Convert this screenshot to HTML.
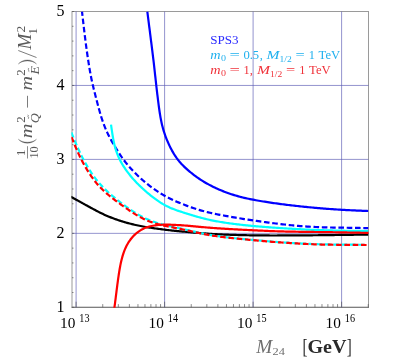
<!DOCTYPE html>
<html><head><meta charset="utf-8"><title>plot</title>
<style>
html,body{margin:0;padding:0;background:#fff;}
body{width:399px;height:362px;overflow:hidden;position:relative;font-family:"Liberation Serif",serif;}
</style></head><body>
<svg width="399" height="362" viewBox="0 0 399 362" style="position:absolute;left:0;top:0;will-change:transform;opacity:0.999">
<rect x="0" y="0" width="399" height="362" fill="#fff"/>
<defs><clipPath id="c"><rect x="71.4" y="11.5" width="297.1" height="296.2"/></clipPath></defs>
<rect x="72.0" y="11.5" width="296.5" height="295.8" fill="none" stroke="#9a9a9a" stroke-width="1"/>
<line x1="71.5" y1="307.3" x2="369.0" y2="307.3" stroke="#666" stroke-width="0.8"/>
<g stroke="#5a5ab4" stroke-width="0.65" fill="none"><line x1="76.10" y1="11.5" x2="76.10" y2="307.3"/><line x1="164.60" y1="11.5" x2="164.60" y2="307.3"/><line x1="253.10" y1="11.5" x2="253.10" y2="307.3"/><line x1="341.60" y1="11.5" x2="341.60" y2="307.3"/><line x1="72.0" y1="233.35" x2="368.5" y2="233.35"/><line x1="72.0" y1="159.40" x2="368.5" y2="159.40"/><line x1="72.0" y1="85.45" x2="368.5" y2="85.45"/></g>
<g clip-path="url(#c)" fill="none" stroke-width="2.2" stroke-linejoin="round">
<path d="M70.54 196.62 L71.66 197.23 L72.78 197.84 L73.91 198.45 L75.03 199.06 L76.14 199.67 L77.26 200.28 L78.38 200.90 L79.50 201.51 L80.62 202.13 L81.73 202.75 L82.85 203.36 L83.97 203.98 L85.08 204.60 L86.20 205.21 L87.32 205.83 L88.44 206.44 L89.55 207.06 L90.67 207.67 L91.79 208.28 L92.91 208.89 L94.04 209.49 L95.16 210.09 L96.29 210.69 L97.41 211.28 L98.55 211.86 L99.68 212.44 L100.82 213.00 L101.97 213.56 L103.11 214.11 L104.27 214.64 L105.43 215.16 L106.59 215.68 L107.76 216.18 L108.94 216.66 L110.12 217.14 L111.30 217.61 L112.49 218.07 L113.68 218.51 L114.87 218.95 L116.07 219.38 L117.28 219.80 L118.48 220.21 L119.69 220.61 L120.90 221.00 L122.12 221.38 L123.34 221.76 L124.56 222.12 L125.78 222.48 L127.01 222.82 L128.24 223.16 L129.47 223.49 L130.70 223.81 L131.94 224.12 L133.18 224.42 L134.42 224.71 L135.66 225.00 L136.91 225.27 L138.15 225.53 L139.40 225.79 L140.65 226.04 L141.90 226.28 L143.16 226.51 L144.41 226.74 L145.67 226.96 L146.93 227.17 L148.19 227.38 L149.45 227.58 L150.71 227.77 L151.97 227.97 L153.23 228.15 L154.49 228.34 L155.75 228.52 L157.02 228.69 L158.28 228.86 L159.55 229.03 L160.81 229.20 L162.08 229.36 L163.34 229.52 L164.61 229.68 L165.87 229.83 L167.14 229.98 L168.41 230.12 L169.67 230.27 L170.94 230.41 L172.21 230.54 L173.48 230.67 L174.75 230.80 L176.02 230.93 L177.29 231.05 L178.55 231.17 L179.82 231.29 L181.09 231.41 L182.36 231.53 L183.63 231.65 L184.90 231.76 L186.17 231.87 L187.44 231.99 L188.71 232.10 L189.98 232.21 L191.25 232.32 L192.52 232.44 L193.79 232.55 L195.06 232.66 L196.33 232.77 L197.60 232.88 L198.88 232.98 L200.15 233.09 L201.42 233.19 L202.69 233.28 L203.96 233.38 L205.23 233.47 L206.50 233.56 L207.77 233.65 L209.05 233.74 L210.32 233.82 L211.59 233.90 L212.86 233.98 L214.14 234.05 L215.41 234.13 L216.68 234.20 L217.96 234.26 L219.23 234.33 L220.50 234.39 L221.78 234.45 L223.05 234.51 L224.32 234.56 L225.60 234.62 L226.87 234.67 L228.15 234.72 L229.42 234.76 L230.69 234.81 L231.97 234.85 L233.24 234.89 L234.52 234.93 L235.79 234.97 L237.07 235.00 L238.34 235.04 L239.62 235.07 L240.89 235.10 L242.17 235.13 L243.44 235.16 L244.72 235.19 L245.99 235.22 L247.27 235.24 L248.54 235.27 L249.82 235.29 L251.09 235.31 L252.37 235.33 L253.64 235.35 L254.92 235.37 L256.19 235.39 L257.47 235.40 L258.74 235.41 L260.02 235.43 L261.29 235.44 L262.57 235.45 L263.84 235.45 L265.12 235.46 L266.39 235.47 L267.67 235.47 L268.94 235.47 L270.22 235.48 L271.49 235.48 L272.77 235.48 L274.04 235.48 L275.32 235.48 L276.59 235.48 L277.87 235.47 L279.14 235.47 L280.42 235.47 L281.69 235.46 L282.97 235.46 L284.24 235.46 L285.52 235.45 L286.80 235.45 L288.07 235.44 L289.35 235.44 L290.62 235.43 L291.90 235.42 L293.17 235.42 L294.45 235.41 L295.72 235.40 L297.00 235.39 L298.27 235.39 L299.55 235.38 L300.82 235.37 L302.10 235.36 L303.37 235.35 L304.65 235.34 L305.92 235.33 L307.20 235.32 L308.47 235.31 L309.75 235.30 L311.02 235.29 L312.30 235.28 L313.57 235.26 L314.85 235.25 L316.12 235.24 L317.40 235.23 L318.67 235.21 L319.95 235.20 L321.22 235.19 L322.50 235.17 L323.77 235.16 L325.05 235.14 L326.32 235.13 L327.60 235.11 L328.87 235.10 L330.15 235.08 L331.42 235.07 L332.70 235.05 L333.97 235.04 L335.25 235.02 L336.52 235.00 L337.80 234.99 L339.07 234.97 L340.35 234.95 L341.62 234.94 L342.90 234.92 L344.17 234.90 L345.45 234.88 L346.72 234.87 L348.00 234.85 L349.27 234.83 L350.55 234.81 L351.82 234.79 L353.10 234.78 L354.37 234.76 L355.65 234.74 L356.92 234.72 L358.20 234.70 L359.47 234.68 L360.75 234.66 L362.02 234.65 L363.30 234.63 L364.57 234.61 L365.85 234.59 L367.13 234.57 L368.40 234.55" stroke="#000"/>
<path d="M147.30 11.50 L147.49 12.98 L147.68 14.45 L147.87 15.93 L148.06 17.41 L148.25 18.88 L148.44 20.36 L148.63 21.84 L148.82 23.31 L149.00 24.79 L149.19 26.27 L149.38 27.74 L149.57 29.22 L149.76 30.70 L149.95 32.17 L150.13 33.65 L150.32 35.13 L150.51 36.60 L150.70 38.08 L150.88 39.56 L151.07 41.03 L151.26 42.51 L151.44 43.99 L151.63 45.46 L151.81 46.94 L152.00 48.42 L152.18 49.89 L152.37 51.37 L152.55 52.85 L152.73 54.33 L152.92 55.80 L153.10 57.28 L153.28 58.76 L153.45 60.24 L153.63 61.71 L153.80 63.19 L153.97 64.67 L154.14 66.15 L154.30 67.63 L154.47 69.11 L154.63 70.59 L154.80 72.07 L154.96 73.55 L155.12 75.03 L155.29 76.50 L155.45 77.98 L155.61 79.46 L155.78 80.94 L155.94 82.42 L156.11 83.90 L156.27 85.38 L156.44 86.86 L156.61 88.34 L156.78 89.82 L156.96 91.30 L157.13 92.78 L157.31 94.26 L157.49 95.74 L157.67 97.21 L157.85 98.69 L158.03 100.17 L158.22 101.65 L158.41 103.13 L158.60 104.61 L158.79 106.08 L158.99 107.56 L159.20 109.03 L159.41 110.51 L159.63 111.98 L159.86 113.46 L160.10 114.93 L160.34 116.39 L160.60 117.86 L160.88 119.32 L161.17 120.78 L161.47 122.24 L161.79 123.69 L162.13 125.14 L162.49 126.58 L162.87 128.02 L163.27 129.45 L163.69 130.88 L164.13 132.29 L164.60 133.71 L165.09 135.11 L165.60 136.51 L166.12 137.90 L166.67 139.29 L167.24 140.67 L167.83 142.04 L168.43 143.40 L169.05 144.75 L169.69 146.10 L170.35 147.44 L171.02 148.76 L171.72 150.08 L172.44 151.38 L173.18 152.67 L173.94 153.94 L174.73 155.20 L175.54 156.43 L176.38 157.65 L177.26 158.84 L178.16 160.02 L179.09 161.17 L180.04 162.29 L181.03 163.40 L182.04 164.49 L183.07 165.55 L184.12 166.60 L185.19 167.63 L186.28 168.64 L187.39 169.63 L188.52 170.61 L189.65 171.57 L190.81 172.52 L191.97 173.45 L193.14 174.37 L194.33 175.27 L195.53 176.16 L196.74 177.04 L197.96 177.89 L199.19 178.73 L200.43 179.56 L201.68 180.37 L202.94 181.16 L204.22 181.94 L205.50 182.69 L206.79 183.44 L208.09 184.16 L209.40 184.87 L210.72 185.56 L212.05 186.23 L213.39 186.89 L214.73 187.54 L216.08 188.17 L217.43 188.79 L218.80 189.39 L220.17 189.98 L221.54 190.55 L222.92 191.11 L224.31 191.66 L225.70 192.19 L227.09 192.71 L228.49 193.21 L229.90 193.70 L231.31 194.18 L232.73 194.64 L234.15 195.08 L235.57 195.52 L237.00 195.93 L238.43 196.34 L239.87 196.73 L241.30 197.11 L242.75 197.47 L244.19 197.82 L245.64 198.15 L247.10 198.48 L248.55 198.79 L250.01 199.10 L251.47 199.39 L252.93 199.67 L254.39 199.95 L255.86 200.22 L257.32 200.49 L258.79 200.74 L260.26 200.99 L261.73 201.24 L263.20 201.48 L264.67 201.71 L266.14 201.95 L267.61 202.17 L269.08 202.39 L270.56 202.61 L272.03 202.83 L273.50 203.04 L274.98 203.24 L276.45 203.45 L277.93 203.65 L279.41 203.85 L280.88 204.04 L282.36 204.23 L283.83 204.42 L285.31 204.61 L286.79 204.79 L288.27 204.97 L289.75 205.15 L291.22 205.33 L292.70 205.50 L294.18 205.67 L295.66 205.84 L297.14 206.00 L298.62 206.17 L300.10 206.33 L301.58 206.49 L303.06 206.64 L304.54 206.79 L306.02 206.95 L307.50 207.09 L308.99 207.24 L310.47 207.38 L311.95 207.53 L313.43 207.66 L314.91 207.80 L316.40 207.93 L317.88 208.06 L319.36 208.19 L320.85 208.32 L322.33 208.44 L323.81 208.56 L325.30 208.68 L326.78 208.79 L328.27 208.90 L329.75 209.01 L331.23 209.12 L332.72 209.22 L334.20 209.33 L335.69 209.42 L337.18 209.52 L338.66 209.61 L340.15 209.70 L341.63 209.79 L343.12 209.88 L344.61 209.96 L346.09 210.04 L347.58 210.11 L349.06 210.19 L350.55 210.26 L352.04 210.33 L353.53 210.40 L355.01 210.47 L356.50 210.53 L357.99 210.60 L359.47 210.66 L360.96 210.72 L362.45 210.78 L363.94 210.84 L365.42 210.90 L366.91 210.96 L368.40 211.02" stroke="#0000ff"/>
<path d="M81.99 11.50 L82.19 13.24 L82.39 14.99 L82.58 16.73 L82.78 18.47 L82.99 20.21 L83.19 21.96 L83.39 23.70 L83.59 25.44 L83.80 27.18 L84.00 28.92 L84.21 30.66 L84.42 32.40 L84.64 34.14 L84.85 35.88 L85.07 37.62 L85.29 39.36 L85.51 41.10 L85.73 42.84 L85.96 44.58 L86.19 46.32 L86.43 48.05 L86.66 49.79 L86.91 51.52 L87.15 53.26 L87.40 54.99 L87.65 56.73 L87.91 58.46 L88.18 60.19 L88.44 61.93 L88.72 63.66 L88.99 65.39 L89.28 67.11 L89.57 68.84 L89.87 70.57 L90.18 72.29 L90.50 74.02 L90.82 75.74 L91.16 77.45 L91.51 79.17 L91.88 80.89 L92.25 82.60 L92.64 84.31 L93.04 86.01 L93.45 87.72 L93.86 89.42 L94.29 91.12 L94.72 92.82 L95.15 94.53 L95.59 96.23 L96.03 97.93 L96.48 99.63 L96.92 101.33 L97.36 103.03 L97.81 104.73 L98.26 106.43 L98.72 108.13 L99.19 109.82 L99.66 111.52 L100.15 113.20 L100.64 114.89 L101.16 116.56 L101.68 118.24 L102.23 119.90 L102.79 121.56 L103.38 123.20 L103.98 124.84 L104.61 126.47 L105.27 128.09 L105.95 129.70 L106.66 131.29 L107.40 132.87 L108.16 134.45 L108.95 136.01 L109.76 137.56 L110.59 139.10 L111.44 140.64 L112.30 142.16 L113.19 143.68 L114.08 145.18 L114.99 146.69 L115.91 148.18 L116.84 149.67 L117.78 151.15 L118.73 152.63 L119.69 154.10 L120.66 155.56 L121.65 157.00 L122.66 158.43 L123.69 159.84 L124.75 161.24 L125.83 162.61 L126.93 163.98 L128.05 165.32 L129.19 166.65 L130.35 167.96 L131.52 169.26 L132.72 170.54 L133.93 171.81 L135.15 173.06 L136.39 174.30 L137.64 175.53 L138.91 176.74 L140.19 177.94 L141.49 179.11 L142.81 180.27 L144.14 181.41 L145.49 182.53 L146.85 183.63 L148.23 184.72 L149.62 185.79 L151.02 186.84 L152.44 187.87 L153.87 188.89 L155.31 189.89 L156.76 190.87 L158.23 191.84 L159.70 192.78 L161.19 193.71 L162.69 194.61 L164.20 195.49 L165.73 196.35 L167.26 197.19 L168.81 198.00 L170.37 198.78 L171.95 199.54 L173.54 200.28 L175.13 201.00 L176.74 201.69 L178.36 202.37 L179.98 203.04 L181.61 203.69 L183.24 204.34 L184.87 204.97 L186.51 205.60 L188.15 206.21 L189.80 206.81 L191.45 207.40 L193.11 207.97 L194.77 208.53 L196.44 209.07 L198.11 209.59 L199.79 210.10 L201.47 210.58 L203.16 211.05 L204.85 211.49 L206.55 211.92 L208.25 212.34 L209.96 212.74 L211.67 213.12 L213.38 213.50 L215.10 213.86 L216.81 214.21 L218.53 214.56 L220.25 214.89 L221.98 215.22 L223.70 215.54 L225.43 215.86 L227.15 216.17 L228.88 216.48 L230.61 216.78 L232.33 217.08 L234.06 217.37 L235.79 217.66 L237.52 217.95 L239.25 218.24 L240.98 218.52 L242.71 218.80 L244.44 219.08 L246.17 219.36 L247.91 219.64 L249.64 219.91 L251.37 220.18 L253.10 220.44 L254.84 220.70 L256.57 220.96 L258.30 221.21 L260.04 221.45 L261.78 221.70 L263.51 221.93 L265.25 222.16 L266.99 222.39 L268.73 222.61 L270.47 222.83 L272.20 223.05 L273.94 223.26 L275.68 223.47 L277.43 223.68 L279.17 223.89 L280.91 224.09 L282.65 224.29 L284.39 224.49 L286.13 224.69 L287.87 224.88 L289.62 225.07 L291.36 225.25 L293.10 225.42 L294.85 225.59 L296.59 225.75 L298.34 225.90 L300.09 226.05 L301.83 226.18 L303.58 226.31 L305.33 226.43 L307.08 226.55 L308.83 226.66 L310.58 226.76 L312.33 226.85 L314.08 226.94 L315.83 227.02 L317.58 227.10 L319.33 227.17 L321.08 227.23 L322.83 227.29 L324.59 227.34 L326.34 227.39 L328.09 227.44 L329.84 227.48 L331.59 227.51 L333.35 227.55 L335.10 227.58 L336.85 227.61 L338.60 227.64 L340.36 227.67 L342.11 227.69 L343.86 227.72 L345.62 227.74 L347.37 227.77 L349.12 227.80 L350.87 227.82 L352.63 227.85 L354.38 227.88 L356.13 227.90 L357.88 227.93 L359.64 227.96 L361.39 227.99 L363.14 228.01 L364.90 228.04 L366.65 228.07 L368.40 228.10" stroke="#0000ff" stroke-dasharray="5.6 2.7" stroke-dashoffset="1.2"/>
<path d="M111.02 124.53 L111.20 125.81 L111.37 127.09 L111.55 128.37 L111.73 129.65 L111.92 130.93 L112.11 132.21 L112.31 133.48 L112.51 134.76 L112.72 136.03 L112.94 137.31 L113.17 138.58 L113.41 139.84 L113.66 141.11 L113.93 142.37 L114.21 143.63 L114.50 144.88 L114.81 146.12 L115.14 147.37 L115.49 148.60 L115.86 149.83 L116.26 151.05 L116.67 152.26 L117.11 153.47 L117.57 154.66 L118.05 155.85 L118.56 157.02 L119.09 158.19 L119.64 159.34 L120.22 160.49 L120.81 161.62 L121.43 162.75 L122.07 163.86 L122.73 164.96 L123.41 166.06 L124.10 167.14 L124.81 168.21 L125.54 169.28 L126.28 170.33 L127.03 171.37 L127.80 172.41 L128.59 173.43 L129.38 174.45 L130.19 175.46 L131.01 176.45 L131.84 177.44 L132.68 178.42 L133.53 179.39 L134.40 180.34 L135.28 181.29 L136.16 182.23 L137.06 183.16 L137.96 184.08 L138.88 184.99 L139.80 185.89 L140.73 186.79 L141.68 187.67 L142.62 188.55 L143.58 189.42 L144.54 190.28 L145.51 191.14 L146.49 191.98 L147.47 192.82 L148.46 193.65 L149.46 194.47 L150.46 195.28 L151.47 196.09 L152.49 196.88 L153.51 197.67 L154.54 198.44 L155.58 199.20 L156.63 199.95 L157.68 200.69 L158.74 201.41 L159.81 202.12 L160.90 202.81 L161.99 203.48 L163.09 204.14 L164.20 204.77 L165.32 205.38 L166.46 205.98 L167.60 206.55 L168.76 207.10 L169.92 207.63 L171.10 208.14 L172.28 208.63 L173.47 209.10 L174.67 209.56 L175.88 210.00 L177.09 210.43 L178.31 210.84 L179.53 211.25 L180.75 211.66 L181.98 212.05 L183.21 212.44 L184.44 212.83 L185.67 213.21 L186.90 213.59 L188.14 213.97 L189.37 214.35 L190.60 214.73 L191.84 215.10 L193.07 215.48 L194.31 215.85 L195.54 216.22 L196.78 216.59 L198.01 216.94 L199.25 217.29 L200.49 217.64 L201.74 217.97 L202.98 218.29 L204.23 218.61 L205.48 218.91 L206.73 219.21 L207.99 219.50 L209.24 219.78 L210.50 220.05 L211.76 220.32 L213.02 220.58 L214.29 220.83 L215.55 221.07 L216.82 221.31 L218.08 221.54 L219.35 221.76 L220.62 221.98 L221.89 222.19 L223.16 222.39 L224.44 222.59 L225.71 222.78 L226.98 222.97 L228.26 223.15 L229.54 223.33 L230.81 223.51 L232.09 223.67 L233.37 223.84 L234.65 224.00 L235.93 224.16 L237.21 224.31 L238.49 224.46 L239.77 224.61 L241.05 224.75 L242.33 224.90 L243.61 225.04 L244.89 225.17 L246.17 225.31 L247.46 225.44 L248.74 225.57 L250.02 225.69 L251.30 225.81 L252.59 225.94 L253.87 226.05 L255.15 226.17 L256.44 226.28 L257.72 226.40 L259.00 226.50 L260.29 226.61 L261.57 226.72 L262.86 226.82 L264.14 226.92 L265.43 227.02 L266.71 227.11 L268.00 227.21 L269.28 227.30 L270.57 227.39 L271.85 227.48 L273.14 227.57 L274.42 227.66 L275.71 227.74 L276.99 227.83 L278.28 227.91 L279.57 228.00 L280.85 228.08 L282.14 228.16 L283.42 228.24 L284.71 228.32 L285.99 228.40 L287.28 228.48 L288.57 228.56 L289.85 228.64 L291.14 228.72 L292.43 228.79 L293.71 228.87 L295.00 228.94 L296.28 229.01 L297.57 229.08 L298.86 229.15 L300.14 229.22 L301.43 229.29 L302.72 229.36 L304.00 229.42 L305.29 229.48 L306.58 229.55 L307.87 229.61 L309.15 229.67 L310.44 229.73 L311.73 229.78 L313.01 229.84 L314.30 229.89 L315.59 229.94 L316.88 229.99 L318.16 230.04 L319.45 230.09 L320.74 230.14 L322.02 230.18 L323.31 230.22 L324.60 230.26 L325.89 230.30 L327.18 230.34 L328.46 230.37 L329.75 230.41 L331.04 230.44 L332.33 230.47 L333.61 230.50 L334.90 230.53 L336.19 230.56 L337.48 230.59 L338.77 230.61 L340.06 230.64 L341.34 230.66 L342.63 230.69 L343.92 230.71 L345.21 230.73 L346.50 230.75 L347.78 230.77 L349.07 230.79 L350.36 230.80 L351.65 230.82 L352.94 230.84 L354.23 230.85 L355.51 230.87 L356.80 230.89 L358.09 230.90 L359.38 230.91 L360.67 230.93 L361.96 230.94 L363.25 230.96 L364.53 230.97 L365.82 230.98 L367.11 231.00 L368.40 231.01" stroke="#00ffff"/>
<path d="M71.34 132.43 L71.88 133.75 L72.41 135.06 L72.94 136.38 L73.48 137.70 L74.02 139.01 L74.56 140.33 L75.10 141.64 L75.65 142.95 L76.21 144.26 L76.77 145.56 L77.34 146.86 L77.92 148.16 L78.51 149.46 L79.10 150.75 L79.71 152.03 L80.32 153.32 L80.94 154.59 L81.57 155.87 L82.22 157.13 L82.87 158.40 L83.53 159.65 L84.21 160.91 L84.89 162.15 L85.59 163.39 L86.29 164.63 L87.01 165.86 L87.73 167.08 L88.47 168.29 L89.22 169.50 L89.98 170.70 L90.75 171.90 L91.54 173.08 L92.34 174.25 L93.16 175.41 L93.99 176.57 L94.83 177.71 L95.69 178.84 L96.57 179.95 L97.46 181.06 L98.37 182.15 L99.29 183.22 L100.23 184.28 L101.19 185.33 L102.16 186.37 L103.15 187.39 L104.15 188.39 L105.16 189.39 L106.18 190.37 L107.22 191.34 L108.27 192.30 L109.33 193.25 L110.40 194.19 L111.47 195.12 L112.56 196.04 L113.65 196.95 L114.75 197.85 L115.85 198.75 L116.96 199.64 L118.08 200.52 L119.20 201.40 L120.33 202.27 L121.46 203.13 L122.60 203.99 L123.74 204.84 L124.88 205.68 L126.03 206.52 L127.19 207.35 L128.35 208.17 L129.52 208.98 L130.69 209.79 L131.87 210.58 L133.06 211.37 L134.25 212.14 L135.45 212.90 L136.66 213.64 L137.88 214.37 L139.11 215.09 L140.34 215.78 L141.59 216.46 L142.85 217.12 L144.11 217.76 L145.39 218.37 L146.68 218.97 L147.97 219.54 L149.28 220.09 L150.59 220.62 L151.92 221.13 L153.25 221.62 L154.59 222.08 L155.93 222.53 L157.29 222.96 L158.65 223.36 L160.01 223.76 L161.38 224.13 L162.76 224.49 L164.13 224.84 L165.51 225.18 L166.90 225.51 L168.28 225.83 L169.67 226.14 L171.06 226.45 L172.45 226.75 L173.84 227.05 L175.23 227.35 L176.62 227.65 L178.01 227.95 L179.40 228.25 L180.79 228.55 L182.18 228.85 L183.57 229.16 L184.96 229.46 L186.35 229.77 L187.73 230.08 L189.12 230.40 L190.51 230.71 L191.89 231.03 L193.28 231.34 L194.66 231.66 L196.05 231.97 L197.44 232.28 L198.82 232.59 L200.21 232.89 L201.60 233.19 L202.99 233.48 L204.38 233.77 L205.78 234.05 L207.17 234.32 L208.57 234.58 L209.96 234.84 L211.36 235.09 L212.76 235.34 L214.16 235.57 L215.57 235.80 L216.97 236.02 L218.37 236.23 L219.78 236.43 L221.19 236.63 L222.60 236.81 L224.01 237.00 L225.42 237.17 L226.83 237.34 L228.24 237.50 L229.65 237.66 L231.06 237.81 L232.48 237.96 L233.89 238.11 L235.30 238.25 L236.72 238.39 L238.13 238.53 L239.55 238.67 L240.96 238.81 L242.38 238.94 L243.79 239.08 L245.21 239.21 L246.62 239.34 L248.04 239.48 L249.45 239.61 L250.87 239.74 L252.28 239.87 L253.70 240.00 L255.11 240.13 L256.53 240.26 L257.94 240.39 L259.36 240.51 L260.78 240.64 L262.19 240.76 L263.61 240.89 L265.02 241.01 L266.44 241.13 L267.86 241.25 L269.27 241.36 L270.69 241.48 L272.10 241.59 L273.52 241.70 L274.94 241.81 L276.36 241.92 L277.77 242.03 L279.19 242.13 L280.61 242.23 L282.02 242.33 L283.44 242.43 L284.86 242.53 L286.28 242.62 L287.70 242.71 L289.11 242.80 L290.53 242.89 L291.95 242.98 L293.37 243.06 L294.79 243.14 L296.21 243.23 L297.63 243.31 L299.05 243.38 L300.47 243.46 L301.88 243.53 L303.30 243.61 L304.72 243.68 L306.14 243.74 L307.56 243.81 L308.98 243.87 L310.40 243.93 L311.82 243.99 L313.24 244.05 L314.66 244.10 L316.08 244.15 L317.50 244.19 L318.92 244.23 L320.34 244.28 L321.76 244.31 L323.18 244.35 L324.61 244.38 L326.03 244.41 L327.45 244.44 L328.87 244.46 L330.29 244.49 L331.71 244.51 L333.13 244.53 L334.55 244.55 L335.97 244.56 L337.39 244.58 L338.81 244.59 L340.24 244.61 L341.66 244.62 L343.08 244.63 L344.50 244.64 L345.92 244.65 L347.34 244.66 L348.76 244.67 L350.18 244.68 L351.60 244.69 L353.03 244.70 L354.45 244.71 L355.87 244.72 L357.29 244.73 L358.71 244.73 L360.13 244.74 L361.55 244.75 L362.97 244.76 L364.39 244.77 L365.82 244.78" stroke="#00ffff" stroke-dasharray="5.6 2.7" stroke-dashoffset="0"/>
<path d="M114.29 308.50 L114.47 307.20 L114.64 305.89 L114.82 304.58 L114.99 303.28 L115.16 301.97 L115.33 300.67 L115.50 299.36 L115.67 298.05 L115.83 296.74 L116.00 295.44 L116.16 294.13 L116.32 292.82 L116.49 291.51 L116.65 290.21 L116.82 288.90 L116.98 287.59 L117.15 286.28 L117.32 284.97 L117.50 283.67 L117.67 282.36 L117.85 281.05 L118.03 279.74 L118.21 278.44 L118.40 277.13 L118.59 275.82 L118.78 274.52 L118.98 273.21 L119.19 271.91 L119.40 270.60 L119.62 269.30 L119.85 268.00 L120.08 266.70 L120.33 265.40 L120.59 264.10 L120.87 262.81 L121.16 261.52 L121.46 260.23 L121.78 258.95 L122.12 257.67 L122.48 256.39 L122.86 255.13 L123.26 253.87 L123.68 252.61 L124.13 251.37 L124.61 250.14 L125.12 248.92 L125.66 247.72 L126.22 246.53 L126.82 245.35 L127.45 244.19 L128.12 243.06 L128.81 241.94 L129.54 240.85 L130.31 239.78 L131.10 238.74 L131.93 237.72 L132.79 236.74 L133.69 235.78 L134.61 234.86 L135.56 233.97 L136.55 233.12 L137.56 232.31 L138.60 231.54 L139.67 230.81 L140.77 230.12 L141.90 229.48 L143.05 228.89 L144.22 228.34 L145.42 227.84 L146.63 227.38 L147.87 226.97 L149.12 226.60 L150.38 226.27 L151.66 225.98 L152.95 225.72 L154.24 225.50 L155.55 225.31 L156.85 225.15 L158.17 225.02 L159.49 224.91 L160.81 224.82 L162.13 224.76 L163.45 224.71 L164.78 224.69 L166.11 224.67 L167.43 224.68 L168.76 224.69 L170.09 224.72 L171.41 224.75 L172.74 224.80 L174.06 224.85 L175.39 224.91 L176.71 224.98 L178.03 225.05 L179.35 225.13 L180.67 225.22 L181.99 225.31 L183.31 225.41 L184.63 225.51 L185.94 225.61 L187.26 225.72 L188.57 225.83 L189.89 225.95 L191.20 226.07 L192.52 226.19 L193.83 226.31 L195.14 226.43 L196.46 226.55 L197.77 226.67 L199.08 226.79 L200.40 226.91 L201.71 227.03 L203.02 227.14 L204.34 227.26 L205.65 227.37 L206.96 227.48 L208.28 227.58 L209.59 227.69 L210.90 227.79 L212.22 227.90 L213.53 227.99 L214.85 228.09 L216.16 228.19 L217.48 228.28 L218.79 228.37 L220.11 228.46 L221.42 228.55 L222.74 228.63 L224.05 228.72 L225.37 228.80 L226.68 228.88 L228.00 228.96 L229.32 229.04 L230.63 229.11 L231.95 229.19 L233.26 229.26 L234.58 229.33 L235.90 229.40 L237.21 229.47 L238.53 229.55 L239.85 229.61 L241.16 229.68 L242.48 229.75 L243.80 229.82 L245.11 229.89 L246.43 229.96 L247.75 230.02 L249.06 230.09 L250.38 230.15 L251.70 230.22 L253.02 230.28 L254.33 230.34 L255.65 230.41 L256.97 230.47 L258.28 230.53 L259.60 230.59 L260.92 230.65 L262.23 230.71 L263.55 230.77 L264.87 230.82 L266.19 230.88 L267.50 230.93 L268.82 230.98 L270.14 231.04 L271.46 231.09 L272.77 231.13 L274.09 231.18 L275.41 231.23 L276.73 231.27 L278.04 231.31 L279.36 231.36 L280.68 231.39 L282.00 231.43 L283.31 231.47 L284.63 231.50 L285.95 231.53 L287.27 231.56 L288.59 231.59 L289.90 231.62 L291.22 231.64 L292.54 231.67 L293.86 231.69 L295.18 231.71 L296.50 231.74 L297.81 231.76 L299.13 231.78 L300.45 231.80 L301.77 231.81 L303.09 231.83 L304.41 231.85 L305.72 231.87 L307.04 231.88 L308.36 231.90 L309.68 231.91 L311.00 231.93 L312.32 231.95 L313.63 231.96 L314.95 231.98 L316.27 231.99 L317.59 232.01 L318.91 232.03 L320.23 232.04 L321.54 232.06 L322.86 232.08 L324.18 232.10 L325.50 232.12 L326.82 232.14 L328.14 232.16 L329.45 232.18 L330.77 232.20 L332.09 232.22 L333.41 232.24 L334.73 232.26 L336.05 232.28 L337.36 232.30 L338.68 232.33 L340.00 232.35 L341.32 232.37 L342.64 232.39 L343.95 232.42 L345.27 232.44 L346.59 232.47 L347.91 232.49 L349.23 232.52 L350.55 232.54 L351.86 232.56 L353.18 232.59 L354.50 232.61 L355.82 232.64 L357.14 232.67 L358.45 232.69 L359.77 232.72 L361.09 232.74 L362.41 232.77 L363.73 232.79 L365.05 232.82 L366.36 232.85 L367.68 232.87 L369.00 232.90" stroke="#ff0000"/>
<path d="M71.56 137.06 L72.09 138.38 L72.61 139.70 L73.14 141.02 L73.66 142.34 L74.20 143.66 L74.73 144.97 L75.27 146.29 L75.82 147.60 L76.38 148.90 L76.95 150.21 L77.52 151.50 L78.11 152.80 L78.70 154.09 L79.31 155.37 L79.93 156.65 L80.55 157.92 L81.19 159.19 L81.84 160.46 L82.50 161.71 L83.17 162.97 L83.85 164.21 L84.55 165.46 L85.25 166.69 L85.96 167.92 L86.69 169.14 L87.43 170.36 L88.18 171.57 L88.94 172.76 L89.72 173.95 L90.51 175.13 L91.31 176.31 L92.13 177.47 L92.96 178.61 L93.81 179.75 L94.67 180.88 L95.55 181.99 L96.44 183.09 L97.35 184.17 L98.28 185.24 L99.23 186.29 L100.19 187.32 L101.17 188.34 L102.18 189.34 L103.19 190.32 L104.23 191.29 L105.28 192.24 L106.34 193.17 L107.42 194.10 L108.51 195.01 L109.60 195.91 L110.71 196.80 L111.82 197.68 L112.95 198.56 L114.07 199.43 L115.21 200.29 L116.34 201.14 L117.49 202.00 L118.63 202.84 L119.78 203.69 L120.93 204.53 L122.09 205.36 L123.25 206.19 L124.41 207.02 L125.57 207.84 L126.74 208.65 L127.92 209.46 L129.09 210.26 L130.27 211.06 L131.46 211.84 L132.65 212.62 L133.85 213.38 L135.06 214.13 L136.27 214.87 L137.49 215.59 L138.72 216.29 L139.97 216.97 L141.22 217.64 L142.48 218.28 L143.75 218.90 L145.03 219.50 L146.32 220.08 L147.62 220.63 L148.93 221.16 L150.25 221.66 L151.58 222.15 L152.91 222.60 L154.26 223.04 L155.61 223.46 L156.97 223.85 L158.34 224.23 L159.71 224.59 L161.09 224.93 L162.47 225.25 L163.85 225.57 L165.24 225.87 L166.63 226.16 L168.03 226.44 L169.42 226.72 L170.82 227.00 L172.21 227.27 L173.61 227.55 L175.01 227.82 L176.40 228.09 L177.80 228.37 L179.19 228.65 L180.58 228.94 L181.98 229.23 L183.37 229.53 L184.76 229.83 L186.14 230.13 L187.53 230.44 L188.92 230.75 L190.30 231.06 L191.69 231.38 L193.07 231.70 L194.46 232.01 L195.84 232.32 L197.23 232.63 L198.61 232.94 L200.00 233.24 L201.39 233.53 L202.78 233.81 L204.18 234.09 L205.57 234.36 L206.96 234.62 L208.36 234.87 L209.76 235.12 L211.16 235.35 L212.56 235.58 L213.96 235.81 L215.36 236.02 L216.77 236.23 L218.17 236.44 L219.58 236.63 L220.99 236.82 L222.40 237.00 L223.80 237.17 L225.21 237.34 L226.63 237.50 L228.04 237.66 L229.45 237.82 L230.86 237.97 L232.27 238.12 L233.69 238.26 L235.10 238.40 L236.52 238.54 L237.93 238.68 L239.34 238.82 L240.76 238.96 L242.17 239.10 L243.59 239.24 L245.00 239.38 L246.42 239.51 L247.83 239.65 L249.24 239.79 L250.66 239.92 L252.07 240.06 L253.49 240.19 L254.90 240.32 L256.32 240.45 L257.73 240.58 L259.15 240.71 L260.56 240.84 L261.98 240.96 L263.39 241.08 L264.81 241.20 L266.22 241.32 L267.64 241.44 L269.05 241.56 L270.47 241.67 L271.89 241.78 L273.30 241.89 L274.72 242.00 L276.14 242.10 L277.55 242.21 L278.97 242.31 L280.39 242.41 L281.80 242.51 L283.22 242.60 L284.64 242.70 L286.06 242.79 L287.47 242.88 L288.89 242.97 L290.31 243.06 L291.73 243.14 L293.15 243.23 L294.56 243.31 L295.98 243.39 L297.40 243.47 L298.82 243.55 L300.24 243.63 L301.66 243.71 L303.07 243.79 L304.49 243.86 L305.91 243.93 L307.33 244.00 L308.75 244.07 L310.17 244.13 L311.59 244.19 L313.01 244.25 L314.43 244.31 L315.85 244.36 L317.27 244.41 L318.68 244.46 L320.10 244.50 L321.52 244.54 L322.94 244.57 L324.36 244.61 L325.78 244.63 L327.20 244.66 L328.62 244.68 L330.04 244.70 L331.47 244.72 L332.89 244.74 L334.31 244.75 L335.73 244.77 L337.15 244.78 L338.57 244.79 L339.99 244.80 L341.41 244.81 L342.83 244.82 L344.25 244.83 L345.67 244.84 L347.09 244.85 L348.51 244.86 L349.93 244.87 L351.35 244.88 L352.77 244.88 L354.19 244.89 L355.62 244.90 L357.04 244.92 L358.46 244.93 L359.88 244.94 L361.30 244.95 L362.72 244.96 L364.14 244.97 L365.56 244.98 L366.98 244.99 L368.40 245.00" stroke="#ff0000" stroke-dasharray="5.6 2.7"/>
</g>
<g stroke="#505050" stroke-width="0.65"><line x1="76.10" y1="307.3" x2="76.10" y2="301.70"/><line x1="102.74" y1="307.3" x2="102.74" y2="304.10"/><line x1="118.33" y1="307.3" x2="118.33" y2="304.10"/><line x1="129.38" y1="307.3" x2="129.38" y2="304.10"/><line x1="137.96" y1="307.3" x2="137.96" y2="304.10"/><line x1="144.97" y1="307.3" x2="144.97" y2="304.10"/><line x1="150.89" y1="307.3" x2="150.89" y2="304.10"/><line x1="156.02" y1="307.3" x2="156.02" y2="304.10"/><line x1="160.55" y1="307.3" x2="160.55" y2="304.10"/><line x1="164.60" y1="307.3" x2="164.60" y2="301.70"/><line x1="191.24" y1="307.3" x2="191.24" y2="304.10"/><line x1="206.83" y1="307.3" x2="206.83" y2="304.10"/><line x1="217.88" y1="307.3" x2="217.88" y2="304.10"/><line x1="226.46" y1="307.3" x2="226.46" y2="304.10"/><line x1="233.47" y1="307.3" x2="233.47" y2="304.10"/><line x1="239.39" y1="307.3" x2="239.39" y2="304.10"/><line x1="244.52" y1="307.3" x2="244.52" y2="304.10"/><line x1="249.05" y1="307.3" x2="249.05" y2="304.10"/><line x1="253.10" y1="307.3" x2="253.10" y2="301.70"/><line x1="279.74" y1="307.3" x2="279.74" y2="304.10"/><line x1="295.33" y1="307.3" x2="295.33" y2="304.10"/><line x1="306.38" y1="307.3" x2="306.38" y2="304.10"/><line x1="314.96" y1="307.3" x2="314.96" y2="304.10"/><line x1="321.97" y1="307.3" x2="321.97" y2="304.10"/><line x1="327.89" y1="307.3" x2="327.89" y2="304.10"/><line x1="333.02" y1="307.3" x2="333.02" y2="304.10"/><line x1="337.55" y1="307.3" x2="337.55" y2="304.10"/><line x1="341.60" y1="307.3" x2="341.60" y2="301.70"/><line x1="368.24" y1="307.3" x2="368.24" y2="304.10"/><line x1="72.0" y1="307.30" x2="74.20" y2="307.30"/><line x1="72.0" y1="292.51" x2="73.50" y2="292.51"/><line x1="72.0" y1="277.72" x2="73.50" y2="277.72"/><line x1="72.0" y1="262.93" x2="73.50" y2="262.93"/><line x1="72.0" y1="248.14" x2="73.50" y2="248.14"/><line x1="72.0" y1="233.35" x2="74.20" y2="233.35"/><line x1="72.0" y1="218.56" x2="73.50" y2="218.56"/><line x1="72.0" y1="203.77" x2="73.50" y2="203.77"/><line x1="72.0" y1="188.98" x2="73.50" y2="188.98"/><line x1="72.0" y1="174.19" x2="73.50" y2="174.19"/><line x1="72.0" y1="159.40" x2="74.20" y2="159.40"/><line x1="72.0" y1="144.61" x2="73.50" y2="144.61"/><line x1="72.0" y1="129.82" x2="73.50" y2="129.82"/><line x1="72.0" y1="115.03" x2="73.50" y2="115.03"/><line x1="72.0" y1="100.24" x2="73.50" y2="100.24"/><line x1="72.0" y1="85.45" x2="74.20" y2="85.45"/><line x1="72.0" y1="70.66" x2="73.50" y2="70.66"/><line x1="72.0" y1="55.87" x2="73.50" y2="55.87"/><line x1="72.0" y1="41.08" x2="73.50" y2="41.08"/><line x1="72.0" y1="26.29" x2="73.50" y2="26.29"/><line x1="72.0" y1="11.50" x2="74.20" y2="11.50"/></g>
<text x="64.4" y="311.70" font-family="Liberation Serif, serif" font-size="16" text-anchor="end" fill="#000">1</text>
<text x="64.4" y="237.75" font-family="Liberation Serif, serif" font-size="16" text-anchor="end" fill="#000">2</text>
<text x="64.4" y="163.80" font-family="Liberation Serif, serif" font-size="16" text-anchor="end" fill="#000">3</text>
<text x="64.4" y="89.85" font-family="Liberation Serif, serif" font-size="16" text-anchor="end" fill="#000">4</text>
<text x="64.4" y="15.90" font-family="Liberation Serif, serif" font-size="16" text-anchor="end" fill="#000">5</text>
<text x="60.10" y="328.00" font-family="Liberation Serif, serif" font-size="15.3"  fill="#000" textLength="15.30" lengthAdjust="spacingAndGlyphs">10</text>
<text x="79.30" y="321.60" font-family="Liberation Serif, serif" font-size="12.4"  fill="#000" textLength="10.20" lengthAdjust="spacingAndGlyphs">13</text>
<text x="148.60" y="328.00" font-family="Liberation Serif, serif" font-size="15.3"  fill="#000" textLength="15.30" lengthAdjust="spacingAndGlyphs">10</text>
<text x="167.80" y="321.60" font-family="Liberation Serif, serif" font-size="12.4"  fill="#000" textLength="10.20" lengthAdjust="spacingAndGlyphs">14</text>
<text x="237.10" y="328.00" font-family="Liberation Serif, serif" font-size="15.3"  fill="#000" textLength="15.30" lengthAdjust="spacingAndGlyphs">10</text>
<text x="256.30" y="321.60" font-family="Liberation Serif, serif" font-size="12.4"  fill="#000" textLength="10.20" lengthAdjust="spacingAndGlyphs">15</text>
<text x="325.60" y="328.00" font-family="Liberation Serif, serif" font-size="15.3"  fill="#000" textLength="15.30" lengthAdjust="spacingAndGlyphs">10</text>
<text x="344.80" y="321.60" font-family="Liberation Serif, serif" font-size="12.4"  fill="#000" textLength="10.20" lengthAdjust="spacingAndGlyphs">16</text>
<text x="210.30" y="43.50" font-family="Liberation Serif, serif" font-size="12.3"  fill="#2a2aff" textLength="28.30" lengthAdjust="spacingAndGlyphs">SPS3</text>
<text x="210.30" y="59.20" font-family="Liberation Serif, serif" font-size="12.3" font-style="italic" fill="#1fb0ee" textLength="10.30" lengthAdjust="spacingAndGlyphs">m</text><text x="220.90" y="61.40" font-family="Liberation Serif, serif" font-size="8.6"  fill="#1fb0ee" textLength="5.00" lengthAdjust="spacingAndGlyphs">0</text><text x="229.60" y="59.20" font-family="Liberation Serif, serif" font-size="12.3"  fill="#1fb0ee" textLength="10.40" lengthAdjust="spacingAndGlyphs">=</text><text x="243.40" y="59.20" font-family="Liberation Serif, serif" font-size="12.3"  fill="#1fb0ee" textLength="15.80" lengthAdjust="spacingAndGlyphs">0.5</text><text x="259.80" y="59.20" font-family="Liberation Serif, serif" font-size="12.3"  fill="#1fb0ee">,</text><text x="266.40" y="59.20" font-family="Liberation Serif, serif" font-size="12.3" font-style="italic" fill="#1fb0ee" textLength="13.00" lengthAdjust="spacingAndGlyphs">M</text><text x="279.60" y="62.20" font-family="Liberation Serif, serif" font-size="8.6"  fill="#1fb0ee" textLength="12.20" lengthAdjust="spacingAndGlyphs">1/2</text><text x="295.40" y="59.20" font-family="Liberation Serif, serif" font-size="12.3"  fill="#1fb0ee" textLength="9.20" lengthAdjust="spacingAndGlyphs">=</text><text x="308.80" y="59.20" font-family="Liberation Serif, serif" font-size="12.3"  fill="#1fb0ee" textLength="6.20" lengthAdjust="spacingAndGlyphs">1</text><text x="318.60" y="59.20" font-family="Liberation Serif, serif" font-size="12.3"  fill="#1fb0ee" textLength="21.60" lengthAdjust="spacingAndGlyphs">TeV</text>
<text x="210.30" y="73.50" font-family="Liberation Serif, serif" font-size="12.3" font-style="italic" fill="#f0323a" textLength="10.30" lengthAdjust="spacingAndGlyphs">m</text><text x="220.90" y="75.70" font-family="Liberation Serif, serif" font-size="8.6"  fill="#f0323a" textLength="5.00" lengthAdjust="spacingAndGlyphs">0</text><text x="229.60" y="73.50" font-family="Liberation Serif, serif" font-size="12.3"  fill="#f0323a" textLength="10.40" lengthAdjust="spacingAndGlyphs">=</text><text x="243.40" y="73.50" font-family="Liberation Serif, serif" font-size="12.3"  fill="#f0323a" textLength="6.20" lengthAdjust="spacingAndGlyphs">1</text><text x="249.80" y="73.50" font-family="Liberation Serif, serif" font-size="12.3"  fill="#f0323a">,</text><text x="256.90" y="73.50" font-family="Liberation Serif, serif" font-size="12.3" font-style="italic" fill="#f0323a" textLength="13.00" lengthAdjust="spacingAndGlyphs">M</text><text x="270.10" y="76.50" font-family="Liberation Serif, serif" font-size="8.6"  fill="#f0323a" textLength="12.20" lengthAdjust="spacingAndGlyphs">1/2</text><text x="285.90" y="73.50" font-family="Liberation Serif, serif" font-size="12.3"  fill="#f0323a" textLength="9.20" lengthAdjust="spacingAndGlyphs">=</text><text x="299.30" y="73.50" font-family="Liberation Serif, serif" font-size="12.3"  fill="#f0323a" textLength="6.20" lengthAdjust="spacingAndGlyphs">1</text><text x="309.10" y="73.50" font-family="Liberation Serif, serif" font-size="12.3"  fill="#f0323a" textLength="21.60" lengthAdjust="spacingAndGlyphs">TeV</text>
<text x="256.20" y="352.50" font-family="Liberation Serif, serif" font-size="18" font-style="italic" fill="#6e6e6e" textLength="16.00" lengthAdjust="spacingAndGlyphs">M</text>
<text x="272.60" y="355.40" font-family="Liberation Serif, serif" font-size="11.2"  fill="#6e6e6e" textLength="12.40" lengthAdjust="spacingAndGlyphs">24</text>
<text x="302.40" y="352.70" font-family="Liberation Serif, serif" font-size="21.5"  fill="#2a2a2a" textLength="5.00" lengthAdjust="spacingAndGlyphs">[</text>
<text x="307.40" y="352.50" font-family="Liberation Serif, serif" font-size="18" font-weight="bold" fill="#2a2a2a" textLength="39.00" lengthAdjust="spacingAndGlyphs">GeV</text>
<text x="346.80" y="352.70" font-family="Liberation Serif, serif" font-size="21.5"  fill="#2a2a2a" textLength="5.00" lengthAdjust="spacingAndGlyphs">]</text>
<g transform="translate(29,160) rotate(-90)"><text x="3.80" y="-4.00" font-family="Liberation Serif, serif" font-size="12"  fill="#5a5a5a" textLength="6.80" lengthAdjust="spacingAndGlyphs">1</text><text x="1.40" y="9.10" font-family="Liberation Serif, serif" font-size="12"  fill="#5a5a5a" textLength="12.20" lengthAdjust="spacingAndGlyphs">10</text><text x="21.70" y="2.50" font-family="Liberation Serif, serif" font-size="17.2" font-style="italic" fill="#5a5a5a" textLength="14.70" lengthAdjust="spacingAndGlyphs">m</text><text x="37.20" y="-4.10" font-family="Liberation Serif, serif" font-size="12"  fill="#5a5a5a" textLength="6.40" lengthAdjust="spacingAndGlyphs">2</text><text x="36.80" y="10.00" font-family="Liberation Serif, serif" font-size="12" font-style="italic" fill="#5a5a5a" textLength="10.00" lengthAdjust="spacingAndGlyphs">Q</text><text x="69.60" y="2.50" font-family="Liberation Serif, serif" font-size="17.2" font-style="italic" fill="#5a5a5a" textLength="14.50" lengthAdjust="spacingAndGlyphs">m</text><text x="84.20" y="-4.10" font-family="Liberation Serif, serif" font-size="12"  fill="#5a5a5a" textLength="6.40" lengthAdjust="spacingAndGlyphs">2</text><text x="85.40" y="9.80" font-family="Liberation Serif, serif" font-size="12" font-style="italic" fill="#5a5a5a" textLength="8.40" lengthAdjust="spacingAndGlyphs">E</text><text x="110.50" y="2.20" font-family="Liberation Serif, serif" font-size="18.2" font-style="italic" fill="#5a5a5a" textLength="15.90" lengthAdjust="spacingAndGlyphs">M</text><text x="127.50" y="-4.10" font-family="Liberation Serif, serif" font-size="12"  fill="#5a5a5a" textLength="6.60" lengthAdjust="spacingAndGlyphs">2</text><text x="125.40" y="8.10" font-family="Liberation Serif, serif" font-size="12"  fill="#5a5a5a" textLength="6.40" lengthAdjust="spacingAndGlyphs">1</text></g>
<g stroke="#5a5a5a" fill="none"><line x1="27.5" y1="146.2" x2="27.5" y2="158.5" stroke-width="0.7"/><line x1="27.5" y1="95.8" x2="27.5" y2="107.6" stroke-width="0.8"/><line x1="36.5" y1="57.5" x2="18.3" y2="50.5" stroke-width="0.8"/></g>
<path d="M18.3 139.2 C22.85 144.53 31.95 144.53 36.5 139.2 C31.95 143.20 22.85 143.20 18.3 139.2Z" fill="#5a5a5a" stroke="#5a5a5a" stroke-width="0.3"/>
<path d="M18.3 64.0 C22.85 58.53 31.95 58.53 36.5 64.0 C31.95 59.87 22.85 59.87 18.3 64.0Z" fill="#5a5a5a" stroke="#5a5a5a" stroke-width="0.3"/>
<path d="M29.0 118.6 C27.0 118.1 29.6 117.2 28.3 116.8 S29.6 115.5 27.6 115.0" fill="none" stroke="#5a5a5a" stroke-width="0.7"/>
<path d="M29.3 71.6 C27.3 71.1 29.900000000000002 70.30000000000001 28.6 69.9 S29.900000000000002 68.7 27.900000000000002 68.2" fill="none" stroke="#5a5a5a" stroke-width="0.7"/>
</svg>
</body></html>
